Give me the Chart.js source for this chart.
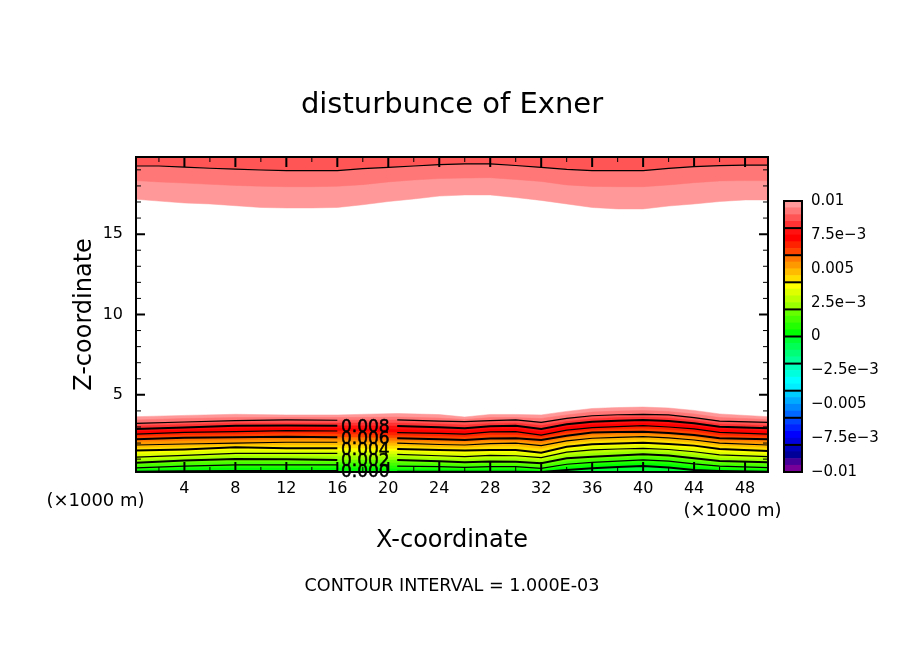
<!DOCTYPE html>
<html><head><meta charset="utf-8">
<style>html,body{margin:0;padding:0;background:#fff;overflow:hidden}
canvas{position:absolute;display:block}
#main{left:0;top:0}#bar{left:770px;top:180px}</style>
<script src="https://cdn.jsdelivr.net/npm/chart.js@4/dist/chart.umd.min.js"></script>
</head><body>
<canvas id="main" width="904" height="654" style="width:904px;height:654px"></canvas>
<canvas id="bar" width="134" height="310" style="width:134px;height:310px"></canvas>
<script>
const titleText = "disturbunce of Exner";
const xTitle = "X-coordinate";
const zTitle = "Z-coordinate";
const footerText = "CONTOUR INTERVAL = 1.000E-03";
const xUnit = "(×1000 m)";
const xTicks = [4,8,12,16,20,24,28,32,36,40,44,48];
const xMinor = [2,6,10,14,18,22,26,30,34,38,42,46];
const zTicks = [5,10,15];
const zMinor = [1,2,3,4,6,7,8,9,11,12,13,14,16,17,18,19];

const topX = [0.2,2,4,6,8,10,12,14,16,18,20,22,24,26,28,30,32,34,36,38,40,42,44,46,48,49.8];
const top0090 = [19.24,19.24,19.17,19.10,19.04,18.99,18.95,18.95,18.95,19.08,19.16,19.24,19.32,19.37,19.37,19.27,19.15,19.03,18.95,18.95,18.95,19.09,19.20,19.26,19.30,19.30];
const top0095 = [18.33,18.25,18.18,18.10,18.03,17.98,17.95,17.95,17.98,18.08,18.25,18.37,18.46,18.49,18.51,18.40,18.28,18.06,17.97,17.95,17.95,18.06,18.20,18.31,18.33,18.33];
const top0100 = [17.17,17.06,16.94,16.88,16.77,16.66,16.63,16.63,16.66,16.83,17.03,17.19,17.37,17.44,17.44,17.28,17.10,16.88,16.66,16.57,16.57,16.75,16.88,17.03,17.13,17.13];

const lowX = [0.2,4,8,12,16,20.7,24,26,28,30,32,34,36,38,40,42,44,46,49.8];
const low0100 = [3.64,3.72,3.79,3.75,3.75,3.84,3.77,3.62,3.78,3.78,3.75,3.97,4.15,4.21,4.24,4.18,4.03,3.81,3.64];
const low0095 = [3.44,3.53,3.59,3.59,3.59,3.62,3.56,3.47,3.59,3.59,3.53,3.75,3.93,3.99,4.03,3.96,3.81,3.59,3.47];
const low0090 = [3.23,3.31,3.39,3.44,3.42,3.44,3.37,3.33,3.40,3.44,3.29,3.54,3.70,3.76,3.79,3.75,3.58,3.37,3.29];
const low0085 = [3.06,3.16,3.25,3.25,3.25,3.25,3.19,3.12,3.22,3.25,3.09,3.34,3.52,3.59,3.62,3.56,3.40,3.19,3.09];
const low0080 = [2.88,2.97,3.08,3.09,3.08,3.06,2.98,2.92,3.04,3.08,2.88,3.17,3.33,3.39,3.44,3.37,3.23,3.02,2.92];
const low0075 = [2.72,2.81,2.91,2.94,2.92,2.85,2.78,2.75,2.88,2.89,2.69,3.00,3.14,3.19,3.25,3.19,3.06,2.85,2.75];
const low0070 = [2.56,2.66,2.71,2.77,2.75,2.65,2.60,2.56,2.69,2.71,2.50,2.81,2.96,3.02,3.08,3.00,2.88,2.67,2.56];
const low0065 = [2.41,2.50,2.53,2.60,2.56,2.47,2.41,2.38,2.50,2.50,2.35,2.63,2.80,2.86,2.89,2.81,2.69,2.47,2.40];
const low0060 = [2.23,2.33,2.36,2.40,2.36,2.30,2.23,2.19,2.28,2.30,2.19,2.46,2.65,2.69,2.71,2.63,2.50,2.30,2.23];
const low0055 = [2.07,2.13,2.17,2.22,2.20,2.13,2.07,2.04,2.13,2.13,2.00,2.30,2.47,2.52,2.55,2.47,2.35,2.13,2.07];
const low0050 = [1.88,1.94,1.99,2.05,2.05,1.99,1.91,1.88,1.96,1.99,1.84,2.13,2.30,2.35,2.40,2.32,2.19,1.99,1.88];
const low0045 = [1.69,1.76,1.85,1.85,1.85,1.82,1.72,1.69,1.79,1.79,1.63,1.94,2.11,2.16,2.21,2.13,2.00,1.82,1.69];
const low0040 = [1.53,1.60,1.74,1.67,1.67,1.63,1.57,1.53,1.57,1.57,1.40,1.77,1.92,1.97,2.02,1.94,1.84,1.63,1.51];
const low0035 = [1.32,1.44,1.57,1.51,1.51,1.48,1.38,1.35,1.38,1.41,1.26,1.60,1.76,1.82,1.85,1.77,1.65,1.44,1.32];
const low0030 = [1.13,1.23,1.36,1.36,1.36,1.30,1.21,1.15,1.23,1.21,1.09,1.43,1.57,1.63,1.67,1.60,1.46,1.26,1.15];
const low0025 = [0.95,1.04,1.20,1.16,1.16,1.13,1.03,0.98,1.04,1.04,0.92,1.23,1.36,1.44,1.49,1.41,1.26,1.07,0.98];
const low0020 = [0.78,0.92,1.01,0.99,0.95,0.95,0.87,0.80,0.85,0.84,0.74,1.05,1.15,1.23,1.30,1.23,1.05,0.88,0.80];
const low0015 = [0.62,0.76,0.82,0.82,0.79,0.76,0.70,0.64,0.70,0.67,0.57,0.85,0.98,1.05,1.13,1.05,0.88,0.73,0.64];
const low0010 = [0.45,0.57,0.64,0.64,0.64,0.57,0.53,0.49,0.53,0.53,0.43,0.68,0.80,0.88,0.95,0.87,0.70,0.57,0.47];
const low0005 = [0.32,0.42,0.45,0.45,0.45,0.39,0.39,0.36,0.39,0.39,0.31,0.51,0.62,0.70,0.76,0.68,0.51,0.42,0.32];
const low0000 = [0.21,0.24,0.26,0.26,0.26,0.22,0.22,0.22,0.22,0.22,0.20,0.32,0.43,0.51,0.57,0.48,0.32,0.26,0.21];

const lowFillSeries = [low0100,low0095,low0090,low0085,low0080,low0075,low0070,low0065,low0060,low0055,low0050,low0045,low0040,low0035,low0030,low0025,low0020,low0015,low0010,low0005,low0000];
const lowFillColors = ["#ff9999","#ff7777","#ff5555","#ff3333","#ff1111","#ff0000","#ff2200","#ff4400","#ff7700","#ff9900","#ffbb00","#ffdd00","#ffff00","#ddff00","#bbff00","#99ff00","#66ff00","#44ff00","#22ff00","#00ff00","#00ff33"];
const thinLines = [low0090,low0070,low0050,low0030,low0010];
const thickLines = [low0080,low0060,low0040,low0020,low0000];
const gapAfterX = 16;
const gapX = 18;

const contourLabels = ["0.008","0.006","0.004","0.002","0.000"];
const contourLabelX = [18.2,18.2,18.2,18.2,18.2];
const contourLabelZ = [3.06,2.32,1.63,0.95,0.26];

const barEdges = [-0.01,-0.0095,-0.009,-0.0085,-0.008,-0.0075,-0.007,-0.0065,-0.006,-0.0055,-0.005,-0.0045,-0.004,-0.0035,-0.003,-0.0025,-0.002,-0.0015,-0.001,-0.0005,0,0.0005,0.001,0.0015,0.002,0.0025,0.003,0.0035,0.004,0.0045,0.005,0.0055,0.006,0.0065,0.007,0.0075,0.008,0.0085,0.009,0.0095,0.01];
const barColors = ["#770099","#440099","#000099","#0000bb","#0000dd","#0000ff","#0022ff","#0044ff","#0066ff","#0088ff","#00aaff","#00ccff","#00eeff","#00ffff","#00ffdd","#00ffbb","#00ff99","#00ff77","#00ff55","#00ff33","#00ff00","#22ff00","#44ff00","#66ff00","#99ff00","#bbff00","#ddff00","#ffff00","#ffdd00","#ffbb00","#ff9900","#ff7700","#ff4400","#ff2200","#ff0000","#ff1111","#ff3333","#ff5555","#ff7777","#ff9999"];
const barSections = [-0.008,-0.006,-0.004,-0.002,0,0.002,0.004,0.006,0.008];
const barTickValues = [-0.01,-0.0075,-0.005,-0.0025,0,0.0025,0.005,0.0075,0.01];
const barTickLabels = ["−0.01","−7.5e−3","−0.005","−2.5e−3","0","2.5e−3","0.005","7.5e−3","0.01"];

const FONT = "'DejaVu Sans'";
function pts(xs, zs){ return xs.map((x,i)=>({x, y:zs[i]})); }
function gapPts(xs, zs){
  const out=[];
  xs.forEach((x,i)=>{ out.push({x,y:zs[i]}); if(x===gapAfterX) out.push({x:gapX,y:null}); });
  return out;
}
const datasets = [];
const base = {pointRadius:0, tension:0, borderWidth:0};
lowFillSeries.forEach((s,i)=>datasets.push({...base,data:pts(lowX,s),fill:'start',backgroundColor:lowFillColors[i],borderColor:lowFillColors[i],borderWidth:0.5,order:200-i}));
datasets.push({...base,data:pts(topX,top0100),fill:'end',backgroundColor:"#ff9999",borderColor:"#ff9999",borderWidth:0.5,order:150});
datasets.push({...base,data:pts(topX,top0095),fill:'end',backgroundColor:"#ff7777",borderColor:"#ff7777",borderWidth:0.5,order:149});
datasets.push({...base,data:pts(topX,top0090),fill:'end',backgroundColor:"#ff5555",borderColor:"#000",borderWidth:1.2,order:148});
thinLines.forEach(s=>datasets.push({...base,data:gapPts(lowX,s),fill:false,borderColor:"#000",borderWidth:1.2,spanGaps:false,order:5}));
thickLines.forEach(s=>datasets.push({...base,data:gapPts(lowX,s),fill:false,borderColor:"#000",borderWidth:2,spanGaps:false,order:4}));

const framePlugin = {
  id:'frame',
  afterDatasetsDraw(c){
    const {ctx,chartArea:a,scales:{x,y}} = c;
    ctx.save();
    ctx.fillStyle="#000";ctx.textAlign="center";ctx.textBaseline="middle";
    ctx.font="17px "+FONT;ctx.lineWidth=0.5;ctx.strokeStyle="#000";
    contourLabels.forEach((t,i)=>{
      const px=x.getPixelForValue(contourLabelX[i]),py=y.getPixelForValue(contourLabelZ[i])+1.5;
      ctx.fillText(t,px,py);ctx.strokeText(t,px,py);
    });
    ctx.strokeStyle="#000";
    const tickV=(v,len,w)=>{const p=x.getPixelForValue(v);ctx.lineWidth=w;ctx.beginPath();ctx.moveTo(p,a.bottom);ctx.lineTo(p,a.bottom-len);ctx.moveTo(p,a.top);ctx.lineTo(p,a.top+len);ctx.stroke();};
    const tickH=(v,len,w)=>{const p=y.getPixelForValue(v);ctx.lineWidth=w;ctx.beginPath();ctx.moveTo(a.left,p);ctx.lineTo(a.left+len,p);ctx.moveTo(a.right,p);ctx.lineTo(a.right-len,p);ctx.stroke();};
    xTicks.forEach(v=>tickV(v,10,2));
    xMinor.forEach(v=>tickV(v,5,1));
    zTicks.forEach(v=>tickH(v,9,2));
    zMinor.forEach(v=>tickH(v,5,1));
    ctx.lineWidth=2;ctx.strokeRect(a.left,a.top,a.right-a.left,a.bottom-a.top);
    ctx.font="18px "+FONT;ctx.textAlign="center";ctx.textBaseline="middle";
    ctx.fillText(xUnit,95.5,501);
    ctx.fillText(xUnit,732.5,511);
    ctx.restore();
  }
};

new Chart(document.getElementById('main'),{
  type:'line',
  data:{datasets},
  plugins:[framePlugin],
  options:{
    responsive:false,animation:false,
    layout:{padding:0},
    plugins:{
      legend:{display:false},tooltip:{enabled:false},
      title:{display:true,text:titleText,color:"#000",font:{family:FONT,size:29,weight:'normal',lineHeight:1.2},padding:{top:88,bottom:34.2}},
      subtitle:{display:true,position:'bottom',text:footerText,color:"#000",font:{family:FONT,size:17.6,weight:'normal',lineHeight:1.2},padding:{top:0,bottom:57.5}}
    },
    scales:{
      x:{type:'linear',min:0.2,max:49.8,
        afterBuildTicks(s){s.ticks=xTicks.map(value=>({value}));},
        afterFit(s){s.height=103.4;},
        grid:{display:false,drawTicks:false},border:{display:false},
        ticks:{autoSkip:false,maxRotation:0,color:"#000",font:{family:FONT,size:16},padding:7},
        title:{display:true,text:xTitle,color:"#000",font:{family:FONT,size:24,weight:'normal'},padding:{top:0,bottom:20}}
      },
      y:{type:'linear',min:0.2,max:19.8,
        afterBuildTicks(s){s.ticks=zTicks.map(value=>({value}));},
        afterFit(s){s.width=136;},
        grid:{display:false,drawTicks:false},border:{display:false},
        ticks:{autoSkip:false,color:"#000",font:{family:FONT,size:16},padding:13},
        title:{display:true,text:zTitle,color:"#000",font:{family:FONT,size:24,weight:'normal'},padding:{top:70,bottom:0}}
      },
      y2:{type:'linear',position:'right',display:true,min:0,max:1,
        afterFit(s){s.width=136;},
        grid:{display:false,drawTicks:false},border:{display:false},
        ticks:{display:false}
      }
    }
  }
});

const barPlugin = {
  id:'barFrame',
  afterDatasetsDraw(c){
    const {ctx,chartArea:a,scales:{y}} = c;
    ctx.save();ctx.strokeStyle="#000";ctx.lineWidth=2;
    barSections.forEach(v=>{const p=y.getPixelForValue(v);ctx.beginPath();ctx.moveTo(a.left,p);ctx.lineTo(a.right,p);ctx.stroke();});
    ctx.strokeRect(a.left,a.top,a.right-a.left,a.bottom-a.top);
    ctx.restore();
  }
};
new Chart(document.getElementById('bar'),{
  type:'bar',
  data:{labels:[""],datasets:barColors.map((col,i)=>({data:[[barEdges[i],barEdges[i+1]]],backgroundColor:col,borderWidth:0,barPercentage:1,categoryPercentage:1,grouped:false}))},
  plugins:[barPlugin],
  options:{
    responsive:false,animation:false,
    layout:{padding:{left:14,right:0,top:21,bottom:18}},
    plugins:{legend:{display:false},tooltip:{enabled:false}},
    scales:{
      x:{display:false,grid:{display:false}},
      y:{position:'right',min:-0.01,max:0.01,
        afterBuildTicks(s){s.ticks=barTickValues.map(value=>({value}));},
        afterFit(s){s.width=102;},
        grid:{display:false,drawTicks:false},border:{display:false},
        ticks:{autoSkip:false,color:"#000",font:{family:FONT,size:15},padding:9,
          callback(v,i){return barTickLabels[i];}}
      }
    }
  }
});
</script></body></html>
